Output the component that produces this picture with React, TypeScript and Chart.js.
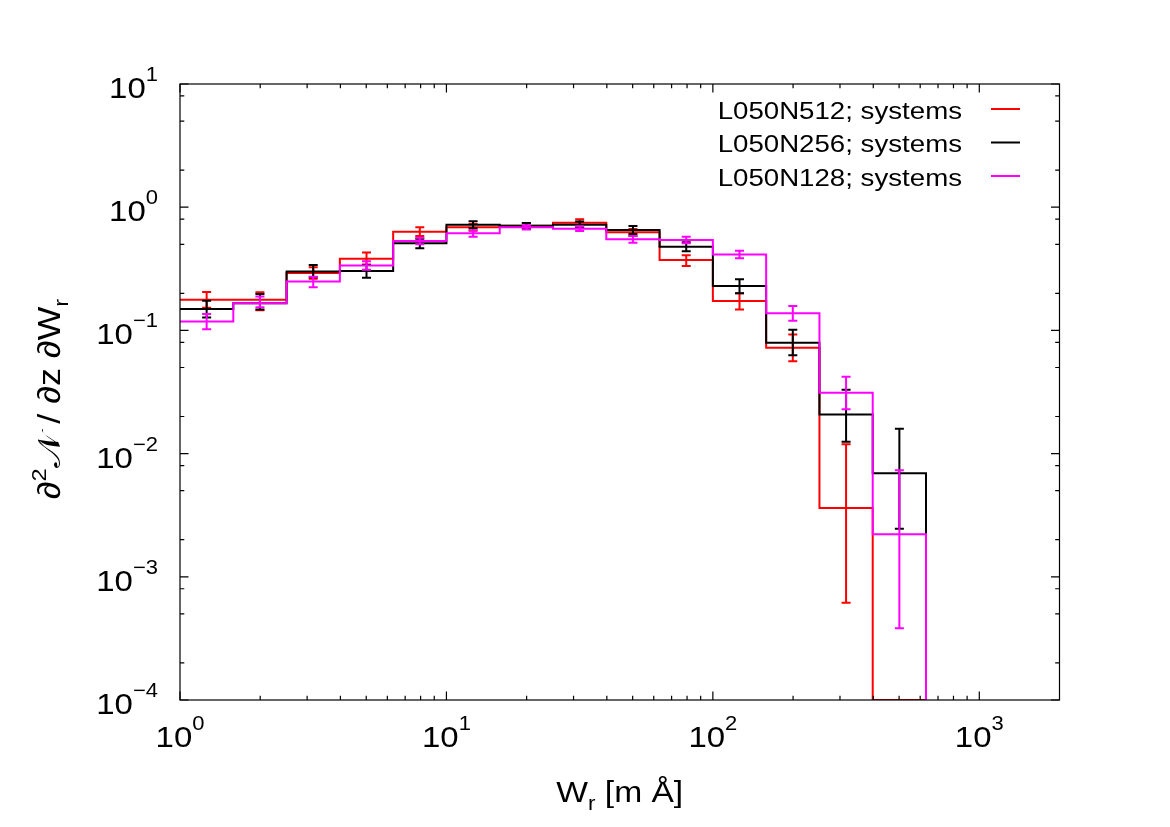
import React, { useEffect, useRef } from "react";
import { Chart, registerables } from "chart.js";

Chart.register(...registerables);

// ---- data ----
const BIN_EDGES = [1, 1.585, 2.512, 3.981, 6.31, 10, 15.85, 25.12, 39.81, 63.1, 100, 158.5, 251.2, 398.1, 631];

const SERIES_NAMES = ["L050N512; systems", "L050N256; systems", "L050N128; systems"];
const SERIES_COLORS = ["#ff0000", "#000000", "#ff00ff"];

const N512_VALUES = [0.177, 0.177, 0.293, 0.382, 0.633, 0.687, 0.708, 0.748, 0.625, 0.373, 0.173, 0.0724, 0.00362, 0];
const N512_ERR_LOW = [0.153, 0.146, 0.262, 0.342, 0.584, 0.645, 0.67, 0.7, 0.585, 0.333, 0.148, 0.0561, 0.000617, null];
const N512_ERR_HIGH = [0.205, 0.204, 0.325, 0.428, 0.687, 0.73, 0.745, 0.798, 0.665, 0.407, 0.2, 0.0925, 0.0119, null];

const N256_VALUES = [0.149, 0.166, 0.3, 0.303, 0.509, 0.721, 0.708, 0.721, 0.653, 0.478, 0.229, 0.0794, 0.0208, 0.00692];
const N256_ERR_LOW = [0.127, 0.148, 0.27, 0.268, 0.464, 0.675, 0.67, 0.68, 0.605, 0.439, 0.2, 0.0628, 0.0125, 0.00246];
const N256_ERR_HIGH = [0.174, 0.197, 0.34, 0.34, 0.555, 0.768, 0.745, 0.765, 0.704, 0.52, 0.26, 0.101, 0.033, 0.0159];

const N128_VALUES = [0.118, 0.166, 0.249, 0.337, 0.532, 0.614, 0.687, 0.67, 0.549, 0.542, 0.414, 0.138, 0.0312, 0.00222];
const N128_ERR_LOW = [0.102, 0.154, 0.224, 0.31, 0.5, 0.576, 0.66, 0.64, 0.515, 0.51, 0.385, 0.12, 0.0229, 0.000382];
const N128_ERR_HIGH = [0.136, 0.188, 0.273, 0.365, 0.565, 0.65, 0.715, 0.7, 0.585, 0.576, 0.443, 0.158, 0.042, 0.00731];

const X_MIN = 1;
const X_MAX = 2000;
const Y_MIN = 1e-4;
const Y_MAX = 10;
const X_MAJOR = [1, 10, 100, 1000];
const X_MAJOR_EXP = ["0", "1", "2", "3"];
const X_MINOR_MULT = [2, 3, 4, 5, 6, 7, 8, 9];
const Y_MAJOR = [1e-4, 1e-3, 1e-2, 1e-1, 1, 10];
const Y_MAJOR_EXP = ["\u22124", "\u22123", "\u22122", "\u22121", "0", "1"];
const Y_MINOR_MULT = [2, 5, 8];

const X_TITLE = ["W", "r", " [m \u00c5]"];
const Y_TITLE = ["\u2202", "2", "\ud835\udca9 / \u2202z \u2202W", "r"];

const VALUES = [N512_VALUES, N256_VALUES, N128_VALUES];
const ERR_LOW = [N512_ERR_LOW, N256_ERR_LOW, N128_ERR_LOW];
const ERR_HIGH = [N512_ERR_HIGH, N256_ERR_HIGH, N128_ERR_HIGH];

// ---- drawing helpers ----
const FONT = '"Liberation Sans", Arial, Helvetica, sans-serif';

type Part = { text: string; size: number; dy: number; font?: string };

function drawRun(ctx: CanvasRenderingContext2D, parts: Part[], x: number, y: number, align: string, sx: number) {
  const widths = parts.map((p) => {
    ctx.font = `${p.size}px ${p.font || FONT}`;
    return ctx.measureText(p.text).width * sx;
  });
  const total = widths.reduce((a, b) => a + b, 0);
  let cx = align === "left" ? x : align === "right" ? x - total : x - total / 2;
  parts.forEach((p, i) => {
    ctx.save();
    ctx.font = `${p.size}px ${p.font || FONT}`;
    ctx.translate(cx, y + p.dy);
    ctx.scale(sx, 1);
    ctx.textAlign = "left";
    ctx.textBaseline = "alphabetic";
    ctx.fillStyle = "#000";
    ctx.fillText(p.text, 0, 0);
    ctx.restore();
    cx += widths[i];
  });
}

function stepPoints(values: number[]) {
  const pts = values.map((v, i) => ({ x: BIN_EDGES[i], y: v > 0 ? v : Y_MIN }));
  pts.push({ x: BIN_EDGES[values.length], y: Y_MIN });
  return pts;
}

const errorBarPlugin = {
  id: "errorBars",
  afterDatasetDraw(chart: any, args: any) {
    const i = args.index;
    const ctx = chart.ctx as CanvasRenderingContext2D;
    const xs = chart.scales.x;
    const ys = chart.scales.y;
    const lows = ERR_LOW[i];
    const highs = ERR_HIGH[i];
    ctx.save();
    ctx.strokeStyle = SERIES_COLORS[i];
    ctx.lineWidth = 2;
    ctx.lineCap = "butt";
    for (let k = 0; k < lows.length; k++) {
      const lo = lows[k];
      const hi = highs[k];
      if (lo == null || hi == null) continue;
      const center = Math.sqrt(BIN_EDGES[k] * BIN_EDGES[k + 1]);
      const px = xs.getPixelForValue(center);
      const pl = ys.getPixelForValue(lo);
      const ph = ys.getPixelForValue(hi);
      ctx.beginPath();
      ctx.moveTo(px, pl);
      ctx.lineTo(px, ph);
      ctx.moveTo(px - 4.5, pl);
      ctx.lineTo(px + 4.5, pl);
      ctx.moveTo(px - 4.5, ph);
      ctx.lineTo(px + 4.5, ph);
      ctx.stroke();
    }
    ctx.restore();
  },
};

const framePlugin = {
  id: "gnuFrame",
  afterDraw(chart: any) {
    const ctx = chart.ctx as CanvasRenderingContext2D;
    const { left, right, top, bottom } = chart.chartArea;
    const xs = chart.scales.x;
    const ys = chart.scales.y;
    ctx.save();
    ctx.strokeStyle = "#000";
    ctx.lineWidth = 1.2;
    ctx.strokeRect(left, top, right - left, bottom - top);

    const MAJ = 8.5;
    const MIN = 4.3;
    ctx.beginPath();
    // x ticks
    X_MAJOR.forEach((v) => {
      const p = xs.getPixelForValue(v);
      ctx.moveTo(p, bottom);
      ctx.lineTo(p, bottom - MAJ);
      ctx.moveTo(p, top);
      ctx.lineTo(p, top + MAJ);
      X_MINOR_MULT.forEach((m) => {
        const mv = v * m;
        if (mv >= X_MAX) return;
        const mp = xs.getPixelForValue(mv);
        ctx.moveTo(mp, bottom);
        ctx.lineTo(mp, bottom - MIN);
        ctx.moveTo(mp, top);
        ctx.lineTo(mp, top + MIN);
      });
    });
    // y ticks
    Y_MAJOR.forEach((v) => {
      const p = ys.getPixelForValue(v);
      ctx.moveTo(left, p);
      ctx.lineTo(left + MAJ, p);
      ctx.moveTo(right, p);
      ctx.lineTo(right - MAJ, p);
      Y_MINOR_MULT.forEach((m) => {
        const mv = v * m;
        if (mv >= Y_MAX) return;
        const mp = ys.getPixelForValue(mv);
        ctx.moveTo(left, mp);
        ctx.lineTo(left + MIN, mp);
        ctx.moveTo(right, mp);
        ctx.lineTo(right - MIN, mp);
      });
    });
    ctx.stroke();

    // tick labels
    const TS = 30;
    const ES = 20;
    const SX = 1.1;
    X_MAJOR.forEach((v, i) => {
      const p = xs.getPixelForValue(v);
      drawRun(ctx, [
        { text: "10", size: TS, dy: 0 },
        { text: X_MAJOR_EXP[i], size: ES, dy: -17 },
      ], p, bottom + 47, "center", SX);
    });
    Y_MAJOR.forEach((v, i) => {
      const p = ys.getPixelForValue(v);
      drawRun(ctx, [
        { text: "10", size: TS, dy: 0 },
        { text: Y_MAJOR_EXP[i], size: ES, dy: -17 },
      ], left - 22, p + 14, "right", SX);
    });

    // x title
    drawRun(ctx, [
      { text: X_TITLE[0], size: 30, dy: 0 },
      { text: X_TITLE[1], size: 20, dy: 8 },
      { text: X_TITLE[2], size: 30, dy: 0 },
    ], (left + right) / 2, 802, "center", 1.12);

    // y title (rotated)
    ctx.save();
    ctx.translate(60, (top + bottom) / 2 + 7);
    ctx.rotate(-Math.PI / 2);
    drawRun(ctx, [
      { text: Y_TITLE[0], size: 32, dy: 0 },
      { text: Y_TITLE[1], size: 21, dy: -14 },
      { text: Y_TITLE[2], size: 32, dy: 0 },
      { text: Y_TITLE[3], size: 21, dy: 8 },
    ], 0, 0, "center", 1.12);
    ctx.restore();

    // legend
    const LEG_Y = [109, 142.5, 176];
    SERIES_NAMES.forEach((name, i) => {
      drawRun(ctx, [{ text: name, size: 24.7, dy: 0 }], 962, LEG_Y[i] + 9.5, "right", 1.12);
      ctx.beginPath();
      ctx.strokeStyle = SERIES_COLORS[i];
      ctx.lineWidth = 2;
      ctx.moveTo(991, LEG_Y[i]);
      ctx.lineTo(1020, LEG_Y[i]);
      ctx.stroke();
    });
    ctx.restore();
  },
};

export default function App() {
  const canvasRef = useRef<HTMLCanvasElement | null>(null);

  useEffect(() => {
    const canvas = canvasRef.current;
    if (!canvas) return;
    const datasets = SERIES_NAMES.map((name, i) => ({
      label: name,
      data: stepPoints(VALUES[i]),
      borderColor: SERIES_COLORS[i],
      backgroundColor: SERIES_COLORS[i],
      borderWidth: 2,
      pointRadius: 0,
      stepped: "before" as const,
      fill: false,
      tension: 0,
      borderJoinStyle: "miter" as const,
      borderCapStyle: "butt" as const,
      order: SERIES_NAMES.length - i,
    }));
    const chart = new Chart(canvas, {
      type: "line",
      data: { datasets },
      options: {
        responsive: false,
        animation: false,
        devicePixelRatio: 1,
        layout: { padding: { left: 180, right: 110.5, top: 84, bottom: 127 } },
        scales: {
          x: { type: "logarithmic", min: X_MIN, max: X_MAX, display: false },
          y: { type: "logarithmic", min: Y_MIN, max: Y_MAX, display: false },
        },
        plugins: {
          legend: { display: false },
          tooltip: { enabled: false },
        },
      },
      plugins: [errorBarPlugin, framePlugin],
    } as any);
    return () => chart.destroy();
  }, []);

  return (
    <div style={{ position: "fixed", left: 0, top: 0, width: 1170, height: 827, background: "#fff" }}>
      <canvas ref={canvasRef} width={1170} height={827} />
    </div>
  );
}
